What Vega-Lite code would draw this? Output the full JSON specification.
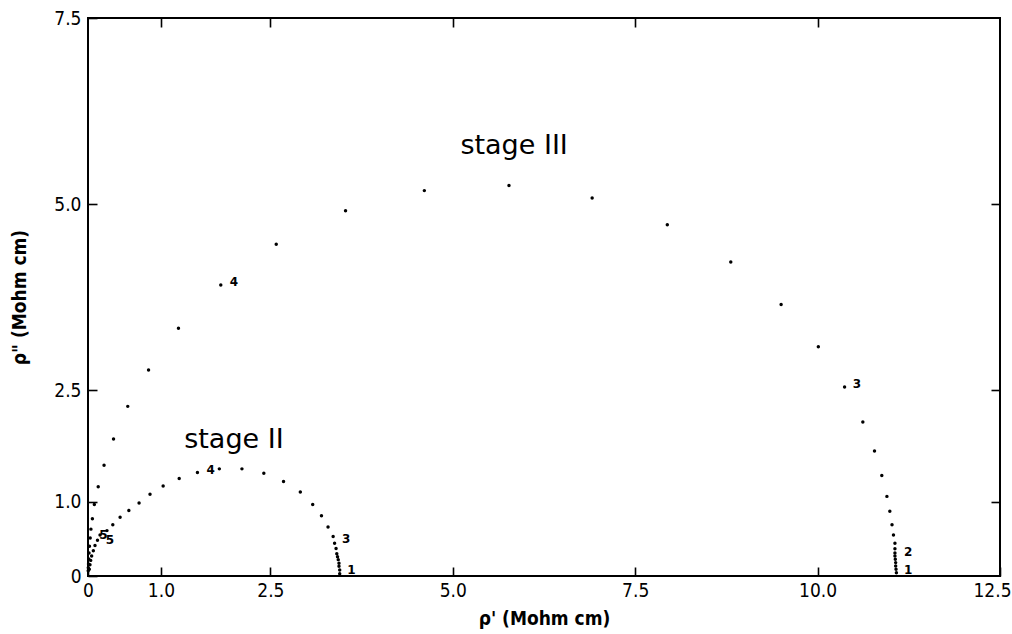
{
  "$schema": "https://vega.github.io/schema/vega-lite/v6.json",
  "width": 912,
  "height": 558,
  "autosize": {"type": "none"},
  "padding": {"left": 88, "top": 18, "right": 12, "bottom": 58},
  "background": "white",
  "config": {
    "view": {"stroke": "black", "strokeWidth": 2},
    "font": "DejaVu Sans Condensed",
    "axis": {
      "grid": false,
      "domain": false,
      "tickColor": "black",
      "tickWidth": 1.6,
      "tickSize": -9,
      "labelColor": "black",
      "labelFont": "DejaVu Sans Condensed",
      "labelFontSize": 19,
      "labelFlush": false,
      "labelOverlap": false,
      "titleColor": "black",
      "titleFont": "DejaVu Sans Condensed",
      "titleFontSize": 19,
      "titleFontWeight": "bold"
    }
  },
  "datasets": {
    "points": [
      {"stage": "III", "re": 11.08, "im": 0.045},
      {"stage": "III", "re": 11.075, "im": 0.09},
      {"stage": "III", "re": 11.07, "im": 0.135},
      {"stage": "III", "re": 11.07, "im": 0.18},
      {"stage": "III", "re": 11.065, "im": 0.225},
      {"stage": "III", "re": 11.06, "im": 0.27},
      {"stage": "III", "re": 11.06, "im": 0.31},
      {"stage": "III", "re": 11.06, "im": 0.365},
      {"stage": "III", "re": 11.06, "im": 0.44},
      {"stage": "III", "re": 11.04, "im": 0.55},
      {"stage": "III", "re": 11.02, "im": 0.69},
      {"stage": "III", "re": 10.99, "im": 0.87},
      {"stage": "III", "re": 10.95, "im": 1.07},
      {"stage": "III", "re": 10.88, "im": 1.35},
      {"stage": "III", "re": 10.78, "im": 1.68},
      {"stage": "III", "re": 10.62, "im": 2.07},
      {"stage": "III", "re": 10.37, "im": 2.54},
      {"stage": "III", "re": 10.01, "im": 3.08},
      {"stage": "III", "re": 9.50, "im": 3.65},
      {"stage": "III", "re": 8.81, "im": 4.22},
      {"stage": "III", "re": 7.94, "im": 4.72},
      {"stage": "III", "re": 6.91, "im": 5.08},
      {"stage": "III", "re": 5.77, "im": 5.25},
      {"stage": "III", "re": 4.61, "im": 5.18},
      {"stage": "III", "re": 3.53, "im": 4.91},
      {"stage": "III", "re": 2.58, "im": 4.46},
      {"stage": "III", "re": 1.82, "im": 3.91},
      {"stage": "III", "re": 1.24, "im": 3.33},
      {"stage": "III", "re": 0.83, "im": 2.77},
      {"stage": "III", "re": 0.545, "im": 2.28},
      {"stage": "III", "re": 0.35, "im": 1.84},
      {"stage": "III", "re": 0.22, "im": 1.49},
      {"stage": "III", "re": 0.14, "im": 1.20},
      {"stage": "III", "re": 0.087, "im": 0.96},
      {"stage": "III", "re": 0.06, "im": 0.77},
      {"stage": "III", "re": 0.04, "im": 0.63},
      {"stage": "III", "re": 0.03, "im": 0.51},
      {"stage": "III", "re": 0.02, "im": 0.40},
      {"stage": "III", "re": 0.014, "im": 0.31},
      {"stage": "III", "re": 0.01, "im": 0.23},
      {"stage": "III", "re": 0.007, "im": 0.16},
      {"stage": "III", "re": 0.004, "im": 0.11},
      {"stage": "III", "re": 0.003, "im": 0.07},
      {"stage": "II", "re": 3.45, "im": 0.03},
      {"stage": "II", "re": 3.45, "im": 0.08},
      {"stage": "II", "re": 3.44, "im": 0.13},
      {"stage": "II", "re": 3.44, "im": 0.17},
      {"stage": "II", "re": 3.43, "im": 0.22},
      {"stage": "II", "re": 3.42, "im": 0.26},
      {"stage": "II", "re": 3.41, "im": 0.30},
      {"stage": "II", "re": 3.40, "im": 0.37},
      {"stage": "II", "re": 3.38, "im": 0.44},
      {"stage": "II", "re": 3.36, "im": 0.53},
      {"stage": "II", "re": 3.29, "im": 0.66},
      {"stage": "II", "re": 3.20, "im": 0.81},
      {"stage": "II", "re": 3.08, "im": 0.96},
      {"stage": "II", "re": 2.91, "im": 1.13},
      {"stage": "II", "re": 2.68, "im": 1.27},
      {"stage": "II", "re": 2.41, "im": 1.38},
      {"stage": "II", "re": 2.11, "im": 1.44},
      {"stage": "II", "re": 1.80, "im": 1.44},
      {"stage": "II", "re": 1.50, "im": 1.39},
      {"stage": "II", "re": 1.25, "im": 1.31},
      {"stage": "II", "re": 1.03, "im": 1.21},
      {"stage": "II", "re": 0.85, "im": 1.10},
      {"stage": "II", "re": 0.70, "im": 0.98},
      {"stage": "II", "re": 0.56, "im": 0.88},
      {"stage": "II", "re": 0.44, "im": 0.79},
      {"stage": "II", "re": 0.34, "im": 0.69},
      {"stage": "II", "re": 0.26, "im": 0.61},
      {"stage": "II", "re": 0.165, "im": 0.55},
      {"stage": "II", "re": 0.13, "im": 0.48},
      {"stage": "II", "re": 0.096, "im": 0.41},
      {"stage": "II", "re": 0.073, "im": 0.34},
      {"stage": "II", "re": 0.05, "im": 0.27},
      {"stage": "II", "re": 0.037, "im": 0.21},
      {"stage": "II", "re": 0.027, "im": 0.15},
      {"stage": "II", "re": 0.018, "im": 0.09}
    ],
    "numbers": [
      {"label": "1", "re": 11.24, "im": 0.08},
      {"label": "2", "re": 11.24, "im": 0.32},
      {"label": "3", "re": 10.54, "im": 2.58},
      {"label": "4", "re": 2.0, "im": 3.95},
      {"label": "5", "re": 0.21, "im": 0.55},
      {"label": "1", "re": 3.61, "im": 0.08},
      {"label": "3", "re": 3.54, "im": 0.50},
      {"label": "4", "re": 1.68, "im": 1.42},
      {"label": "5", "re": 0.30, "im": 0.49}
    ],
    "stages": [
      {"label": "stage III", "re": 5.84, "im": 5.67},
      {"label": "stage II", "re": 2.0, "im": 1.72}
    ]
  },
  "layer": [
    {
      "data": {"name": "points"},
      "mark": {"type": "circle", "size": 12, "color": "black", "opacity": 1},
      "encoding": {
        "x": {
          "field": "re", "type": "quantitative",
          "scale": {"domain": [0, 12.5], "nice": false, "zero": false},
          "axis": {
            "orient": "bottom",
            "values": [0, 1, 2.5, 5, 7.5, 10, 12.5],
            "labelExpr": "datum.value == 0 ? '0' : format(datum.value, '.1f')",
            "labelOffset": {"condition": {"test": "datum.value == 12.5", "value": -8}, "value": 0},
            "labelPadding": 14,
            "title": "ρ' (Mohm cm)",
            "titlePadding": 9
          }
        },
        "y": {
          "field": "im", "type": "quantitative",
          "scale": {"domain": [0, 7.5], "nice": false, "zero": false},
          "axis": {
            "orient": "left",
            "values": [0, 1, 2.5, 5, 7.5],
            "labelExpr": "datum.value == 0 ? '0' : format(datum.value, '.1f')",
            "labelPadding": 16,
            "title": "ρ\" (Mohm cm)",
            "titlePadding": 24
          }
        }
      }
    },
    {
      "data": {"name": "numbers"},
      "mark": {"type": "text", "fontSize": 12, "fontWeight": "bold", "font": "DejaVu Sans", "color": "black", "align": "center", "baseline": "middle"},
      "encoding": {
        "x": {"field": "re", "type": "quantitative", "axis": {"orient": "top", "values": [1, 2.5, 5, 7.5, 10], "labels": false, "title": null}},
        "y": {"field": "im", "type": "quantitative", "axis": {"orient": "right", "values": [1, 2.5, 5], "labels": false, "title": null}},
        "text": {"field": "label"}
      }
    },
    {
      "data": {"name": "stages"},
      "mark": {"type": "text", "fontSize": 27, "font": "DejaVu Sans", "color": "black", "align": "center", "baseline": "alphabetic"},
      "encoding": {
        "x": {"field": "re", "type": "quantitative", "axis": null},
        "y": {"field": "im", "type": "quantitative", "axis": null},
        "text": {"field": "label"}
      }
    }
  ],
  "resolve": {"axis": {"x": "independent", "y": "independent"}}
}
